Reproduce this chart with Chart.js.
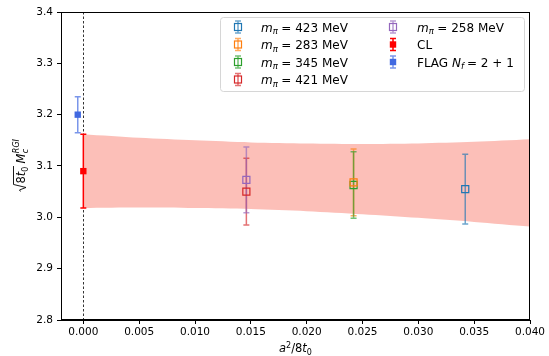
<!DOCTYPE html>
<html><head><meta charset="utf-8">
<script src="https://cdn.jsdelivr.net/npm/chart.js@4"></script>
<style>html,body{margin:0;padding:0;background:#fff}#wrap{width:549px;height:356px;position:relative}</style>
</head><body><div id="wrap"><canvas id="c" width="549" height="356"></canvas></div>
<script>
// ---- data ----
const massLabels = ['423', '283', '345', '421', '258'];
const massColors = ['#1f77b4', '#ff7f0e', '#2ca02c', '#d62728', '#9467bd'];
const massX   = [0.0342, 0.0242, 0.0242, 0.0146, 0.0146];
const massY   = [3.055, 3.068, 3.063, 3.050, 3.073];
const massErr = [0.068, 0.065, 0.065, 0.065, 0.064];
const clX = [0.0], clY = [3.090], clErr = [0.072];
const flagX = [-0.0005], flagY = [3.200], flagErr = [0.035];
const bandX     = [0.000, 0.005, 0.010, 0.015, 0.020, 0.025, 0.030, 0.035, 0.040];
const bandUpper = [3.162, 3.155, 3.150, 3.146, 3.144, 3.143, 3.144, 3.147, 3.152];
const bandLower = [3.018, 3.019, 3.018, 3.016, 3.012, 3.006, 2.999, 2.991, 2.982];
const xTicks = [0.000, 0.005, 0.010, 0.015, 0.020, 0.025, 0.030, 0.035, 0.040];
const yTicks = [2.8, 2.9, 3.0, 3.1, 3.2, 3.3, 3.4];

const FONT = 'DejaVu Sans';
function hexA(hex, a) {
  const n = parseInt(hex.slice(1), 16);
  return `rgba(${(n >> 16) & 255},${(n >> 8) & 255},${n & 255},${a})`;
}

const datasets = [];
massLabels.forEach((m, i) => {
  datasets.push({
    label: 'm_pi = ' + m + ' MeV', legendKind: 'mass', mass: m,
    data: [{ x: massX[i], y: massY[i] }], yErr: [massErr[i]],
    errColor: hexA(massColors[i], 0.65),
    pointStyle: 'rect', pointRadius: 5, pointHoverRadius: 5,
    borderColor: massColors[i], backgroundColor: 'rgba(0,0,0,0)', pointBorderWidth: 1.2,
    showLine: false, order: 0
  });
});
datasets.push({
  label: 'CL', legendKind: 'cl', data: clX.map((x, i) => ({ x, y: clY[i] })), yErr: clErr,
  errColor: '#ff0000', pointStyle: 'rect', pointRadius: 4.5, pointHoverRadius: 4.5,
  borderColor: '#ff0000', backgroundColor: '#ff0000', pointBorderWidth: 0, showLine: false, order: 0
});
datasets.push({
  label: 'FLAG', legendKind: 'flag', data: flagX.map((x, i) => ({ x, y: flagY[i] })), yErr: flagErr,
  errColor: hexA('#4169e1', 0.7), pointStyle: 'rect', pointRadius: 4.5, pointHoverRadius: 4.5,
  borderColor: '#4169e1', backgroundColor: '#4169e1', pointBorderWidth: 0, showLine: false, order: 0
});
datasets.push({
  label: 'bandLower', data: bandX.map((x, i) => ({ x, y: bandLower[i] })),
  showLine: true, pointRadius: 0, borderWidth: 0, borderColor: 'rgba(0,0,0,0)', fill: false,
  tension: 0.3, order: 10
});
datasets.push({
  label: 'bandUpper', data: bandX.map((x, i) => ({ x, y: bandUpper[i] })),
  showLine: true, pointRadius: 0, borderWidth: 0, borderColor: 'rgba(0,0,0,0)',
  fill: '-1', backgroundColor: 'rgba(250,128,114,0.5)', tension: 0.3, order: 10
});

function drawMathSeq(ctx, parts, x, y) {
  let cx = x;
  parts.forEach(p => {
    ctx.font = (p.it ? 'italic ' : '') + p.sz + 'px "' + FONT + '"';
    if (p.t) ctx.fillText(p.t, cx, y + (p.dy || 0));
    cx += ctx.measureText(p.t).width;
    if (p.gap) cx += p.gap;
  });
  return cx - x;
}
function measureSeq(ctx, parts) {
  let w = 0;
  parts.forEach(p => {
    ctx.font = (p.it ? 'italic ' : '') + p.sz + 'px "' + FONT + '"';
    w += ctx.measureText(p.t).width;
    if (p.gap) w += p.gap;
  });
  return w;
}

const plugin = {
  id: 'custom',
  beforeDatasetsDraw(chart) {
    const ctx = chart.ctx, xs = chart.scales.x, ys = chart.scales.y, ca = chart.chartArea;
    ctx.save();
    ctx.strokeStyle = '#000'; ctx.lineWidth = 0.8; ctx.setLineDash([2.5, 2]);
    const x0 = Math.round(xs.getPixelForValue(0)) + 0.5;
    ctx.beginPath(); ctx.moveTo(x0, ca.top); ctx.lineTo(x0, ca.bottom); ctx.stroke();
    ctx.restore();
    chart.data.datasets.forEach(ds => {
      if (!ds.yErr) return;
      ctx.save();
      ctx.strokeStyle = ds.errColor; ctx.lineWidth = 1.5;
      ds.data.forEach((p, i) => {
        const px = xs.getPixelForValue(p.x);
        const yt = ys.getPixelForValue(p.y + ds.yErr[i]);
        const yb = ys.getPixelForValue(p.y - ds.yErr[i]);
        ctx.beginPath();
        ctx.moveTo(px, yt); ctx.lineTo(px, yb);
        ctx.moveTo(px - 3, yt); ctx.lineTo(px + 3, yt);
        ctx.moveTo(px - 3, yb); ctx.lineTo(px + 3, yb);
        ctx.stroke();
      });
      ctx.restore();
    });
  },
  afterDraw(chart) {
    const ctx = chart.ctx, ca = chart.chartArea;
    ctx.save();
    ctx.strokeStyle = '#000'; ctx.lineWidth = 1;
    ctx.strokeRect(Math.round(ca.left) + 0.5, Math.round(ca.top) + 0.5,
      Math.round(ca.right - ca.left) - 1, Math.round(ca.bottom - ca.top) - 1);
    // legend
    const lx = 220.5, ly = 17.5, lw = 304, lh = 74, r = 3;
    ctx.beginPath();
    ctx.moveTo(lx + r, ly); ctx.lineTo(lx + lw - r, ly); ctx.arcTo(lx + lw, ly, lx + lw, ly + r, r);
    ctx.lineTo(lx + lw, ly + lh - r); ctx.arcTo(lx + lw, ly + lh, lx + lw - r, ly + lh, r);
    ctx.lineTo(lx + r, ly + lh); ctx.arcTo(lx, ly + lh, lx, ly + lh - r, r);
    ctx.lineTo(lx, ly + r); ctx.arcTo(lx, ly, lx + r, ly, r); ctx.closePath();
    ctx.fillStyle = 'rgba(255,255,255,0.8)'; ctx.fill();
    ctx.strokeStyle = '#d6d6d6'; ctx.lineWidth = 1; ctx.stroke();

    const items = chart.data.datasets.filter(d => d.legendKind);
    const rowY = [27, 44.5, 62, 79.5];
    const colMarkX = [238, 393], colTextX = [261, 417];
    items.forEach((d, k) => {
      const col = k < 4 ? 0 : 1, row = k < 4 ? k : k - 4;
      const mx = colMarkX[col], my = rowY[row];
      ctx.strokeStyle = d.errColor; ctx.lineWidth = 1.5;
      ctx.beginPath();
      ctx.moveTo(mx, my - 6); ctx.lineTo(mx, my + 6);
      ctx.moveTo(mx - 3, my - 6); ctx.lineTo(mx + 3, my - 6);
      ctx.moveTo(mx - 3, my + 6); ctx.lineTo(mx + 3, my + 6);
      ctx.stroke();
      if (d.legendKind === 'mass') {
        ctx.strokeStyle = d.borderColor; ctx.lineWidth = 1.2;
        ctx.strokeRect(mx - 3.5, my - 3.5, 7, 7);
      } else {
        ctx.fillStyle = d.backgroundColor;
        ctx.fillRect(mx - 3.2, my - 3.2, 6.4, 6.4);
      }
      ctx.fillStyle = '#000'; ctx.textBaseline = 'alphabetic'; ctx.textAlign = 'left';
      const by = my + 4.5;
      if (d.legendKind === 'mass') {
        drawMathSeq(ctx, [
          { t: 'm', it: true, sz: 12 },
          { t: 'π', it: true, sz: 8.5, dy: 2.5, gap: 3.5 },
          { t: '= ' + d.mass + ' MeV', sz: 12 }
        ], colTextX[col], by);
      } else if (d.legendKind === 'cl') {
        drawMathSeq(ctx, [{ t: 'CL', sz: 12 }], colTextX[col], by);
      } else {
        drawMathSeq(ctx, [
          { t: 'FLAG ', sz: 12 },
          { t: 'N', it: true, sz: 12 },
          { t: 'f', it: true, sz: 8.5, dy: 2.5, gap: 3 },
          { t: '= 2 + 1', sz: 12 }
        ], colTextX[col], by);
      }
    });

    const xParts = [
      { t: 'a', it: true, sz: 11.5 },
      { t: '2', sz: 8, dy: -4.5 },
      { t: '/8', sz: 11.5 },
      { t: 't', it: true, sz: 11.5 },
      { t: '0', sz: 8, dy: 2.5 }
    ];
    const xw = measureSeq(ctx, xParts);
    ctx.fillStyle = '#000';
    drawMathSeq(ctx, xParts, (ca.left + ca.right) / 2 - xw / 2, 352);

    ctx.translate(25, (ca.top + ca.bottom) / 2);
    ctx.rotate(-Math.PI / 2);
    const inner = [
      { t: '8', sz: 11.5 },
      { t: 't', it: true, sz: 11.5 },
      { t: '0', sz: 8, dy: 2.5 }
    ];
    const innerW = measureSeq(ctx, inner);
    ctx.font = 'italic 8px "' + FONT + '"';
    const supW = Math.max(ctx.measureText('RGI').width, ctx.measureText('c').width);
    ctx.font = 'italic 11.5px "' + FONT + '"';
    const mW = ctx.measureText('M').width;
    const radW = 8;
    const total = radW + innerW + 3 + mW + supW;
    let sx = -total / 2;
    ctx.strokeStyle = '#000'; ctx.lineWidth = 0.9;
    ctx.beginPath();
    ctx.moveTo(sx + 0.5, -4.5);
    ctx.lineTo(sx + 2, -5.5);
    ctx.lineTo(sx + 4.5, 1);
    ctx.lineTo(sx + radW - 0.5, -11.5);
    ctx.lineTo(sx + radW + innerW + 1, -11.5);
    ctx.stroke();
    sx += radW + 0.5;
    drawMathSeq(ctx, inner, sx, 0);
    sx += innerW + 3;
    drawMathSeq(ctx, [{ t: 'M', it: true, sz: 11.5 }], sx, 0);
    sx += mW;
    ctx.font = 'italic 8px "' + FONT + '"';
    ctx.fillText('c', sx + 0.5, 3);
    ctx.fillText('RGI', sx + 0.5, -6);
    ctx.restore();
  }
};

new Chart(document.getElementById('c'), {
  type: 'scatter',
  data: { datasets },
  options: {
    responsive: false, animation: false, devicePixelRatio: 1,
    layout: { padding: { left: 0, top: 12, right: 19, bottom: 0 } },
    plugins: { legend: { display: false }, tooltip: { enabled: false }, filler: { drawTime: 'beforeDatasetsDraw' } },
    scales: {
      x: {
        type: 'linear', min: -0.002, max: 0.040,
        afterBuildTicks: s => { s.ticks = xTicks.map(v => ({ value: v })); },
        afterFit: s => { s.height = 36; },
        ticks: { callback: v => v.toFixed(3), color: '#000', font: { family: FONT, size: 10.5 }, padding: 2, maxRotation: 0, autoSkip: false },
        grid: { drawOnChartArea: false, drawTicks: true, tickLength: 4, color: '#000', lineWidth: 1 },
        border: { display: true, color: '#000', width: 1 }
      },
      y: {
        type: 'linear', min: 2.8, max: 3.4,
        afterBuildTicks: s => { s.ticks = yTicks.map(v => ({ value: v })); },
        afterFit: s => { s.width = 61; },
        ticks: { callback: v => v.toFixed(1), color: '#000', font: { family: FONT, size: 10.5 }, padding: 4, autoSkip: false },
        grid: { drawOnChartArea: false, drawTicks: true, tickLength: 4, color: '#000', lineWidth: 1 },
        border: { display: true, color: '#000', width: 1 }
      }
    }
  },
  plugins: [plugin]
});
</script></body></html>
